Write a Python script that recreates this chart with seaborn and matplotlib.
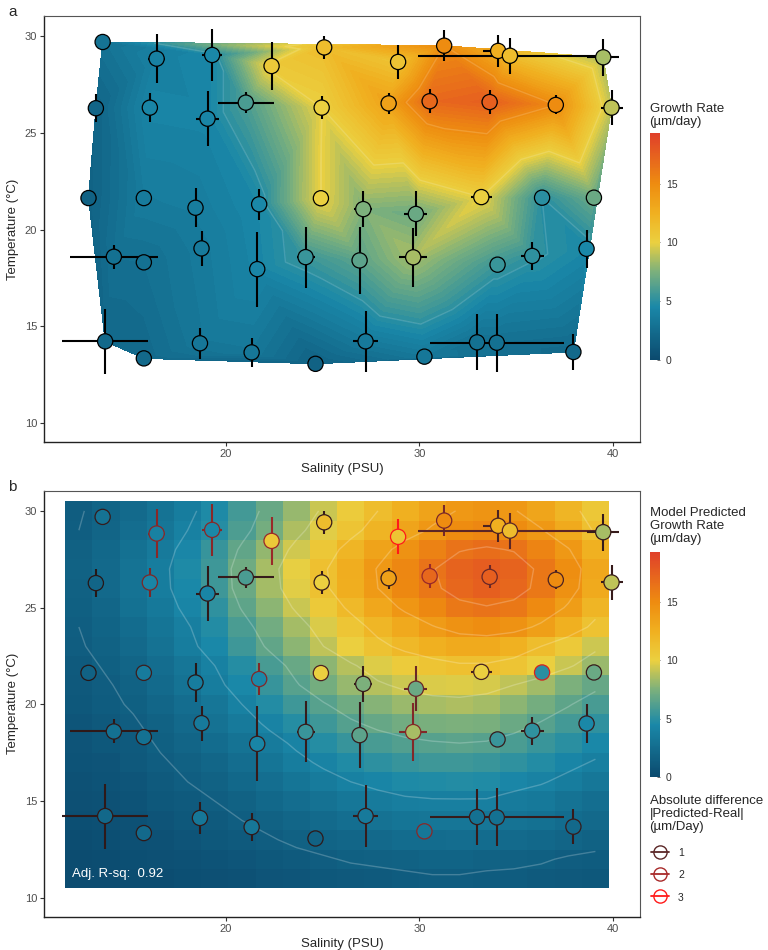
import numpy as np
import matplotlib
matplotlib.use("Agg")
import matplotlib.pyplot as plt
from matplotlib.colors import LinearSegmentedColormap, Normalize
from matplotlib.cm import ScalarMappable
from matplotlib.lines import Line2D
import seaborn as sns

sns.set_style("white")
plt.rcParams['font.family'] = ['Liberation Sans', 'DejaVu Sans']

# observations: salinity (PSU), temperature (C), growth rate (um/day) and error bars
sal = [13.63, 16.42, 19.29, 22.36, 25.08, 13.28, 16.07, 19.05, 21.03, 24.95,
       12.90, 15.76, 18.43, 21.72, 24.91, 27.10, 28.90, 31.28, 34.07, 34.68,
       39.50, 28.41, 30.53, 33.63, 37.05, 39.93, 33.20, 36.34, 39.02, 29.82,
       29.68, 34.04, 35.83, 38.64, 30.26, 32.98, 34.00, 37.96, 14.21, 15.76,
       18.74, 21.62, 24.12, 26.91, 13.76, 15.76, 18.66, 21.33, 24.63, 27.22]
temp = [29.69, 28.83, 29.02, 28.45, 29.41, 26.27, 26.30, 25.73, 26.56, 26.30,
        21.63, 21.63, 21.13, 21.31, 21.62, 21.06, 28.66, 29.50, 29.23, 28.98,
        28.90, 26.52, 26.63, 26.59, 26.44, 26.30, 21.68, 21.65, 21.65, 20.81,
        18.57, 18.19, 18.64, 19.01, 13.44, 14.18, 14.16, 13.68, 18.60, 18.31,
        19.03, 17.96, 18.58, 18.41, 14.23, 13.35, 14.13, 13.66, 13.07, 14.23]
growth = [3.0, 4.0, 4.5, 10.5, 11.5, 2.0, 4.3, 4.3, 6.0, 10.0,
          1.8, 3.6, 3.7, 4.5, 10.0, 7.5, 11.0, 15.0, 12.5, 11.5,
          8.5, 13.5, 17.0, 17.5, 15.0, 9.0, 10.0, 5.0, 7.0, 7.0,
          8.5, 5.5, 5.2, 4.5, 3.3, 2.8, 2.8, 2.3, 2.8, 2.8,
          3.5, 4.3, 5.5, 6.5, 2.2, 2.3, 3.3, 3.3, 1.8, 3.5]
sal_err = [0, 0.43, 0.53, 0.2, 0, 0, 0, 0.6, 1.45, 0,
           0, 0.15, 0, 0, 0, 0.46, 0.38, 0, 0.8, 4.75,
           0.83, 0.2, 0, 0.15, 0.41, 0.57, 0.54, 0, 0, 0.59,
           0.72, 0, 0.59, 0, 0, 0, 3.45, 0, 2.26, 0,
           0, 0, 0.47, 0, 2.22, 0.39, 0, 0, 0, 0.64]
temp_err = [0, 1.25, 1.33, 1.24, 0.6, 0.72, 0.76, 1.41, 0.54, 0.6,
            0, 0, 1.02, 0.81, 0, 0.92, 0.9, 0.8, 0.84, 0.93,
            0.95, 0.55, 0.62, 0.6, 0.49, 0.9, 0, 0, 0, 1.16,
            1.51, 0, 0.72, 0.99, 0.15, 1.44, 1.5, 0.91, 0.62, 0,
            0.91, 1.94, 1.58, 1.72, 1.68, 0.2, 0.81, 0.74, 0.15, 1.58]
# |predicted - real| for panel b
abs_diff = [0.5, 1.6, 1.6, 1.8, 0.5, 0.3, 1.4, 0.4, 0.5, 0.5,
            0.3, 0.6, 0.3, 1.5, 0.8, 0.5, 3.0, 1.4, 0.8, 1.0,
            0.5, 0.5, 1.8, 1.2, 0.8, 0.5, 0.7, 2.5, 0.5, 1.2,
            1.5, 0.5, 0.5, 0.5, 1.6, 0.5, 0.5, 0.5, 0.4, 0.4,
            0.4, 0.5, 0.5, 0.5, 0.4, 0.4, 0.4, 0.4, 0.4, 0.5]

# model predicted growth, rows = temperature 11..30 C, cols = salinity 12.4..39.1
pred = [
    [0.2, 0.2, 0.3, 0.3, 0.4, 0.5, 0.6, 0.8, 0.9, 1.0, 1.1, 1.2, 1.3, 1.4, 1.4, 1.3, 1.3, 1.2, 1.1, 1.0],
    [0.2, 0.3, 0.4, 0.5, 0.6, 0.7, 0.9, 1.0, 1.2, 1.4, 1.6, 1.7, 1.8, 1.9, 1.9, 1.8, 1.7, 1.6, 1.4, 1.3],
    [0.3, 0.4, 0.5, 0.6, 0.8, 1.0, 1.2, 1.4, 1.7, 1.9, 2.1, 2.3, 2.5, 2.5, 2.6, 2.5, 2.4, 2.2, 2.0, 1.8],
    [0.4, 0.5, 0.6, 0.8, 1.0, 1.2, 1.5, 1.8, 2.1, 2.4, 2.7, 2.9, 3.1, 3.2, 3.2, 3.2, 3.0, 2.8, 2.5, 2.3],
    [0.5, 0.6, 0.7, 1.0, 1.2, 1.5, 1.8, 2.2, 2.6, 2.9, 3.3, 3.6, 3.8, 3.9, 3.9, 3.9, 3.6, 3.4, 3.0, 2.7],
    [0.6, 0.7, 0.9, 1.2, 1.5, 1.8, 2.2, 2.7, 3.1, 3.6, 4.0, 4.3, 4.6, 4.7, 4.8, 4.7, 4.4, 4.1, 3.7, 3.3],
    [0.7, 0.8, 1.1, 1.4, 1.7, 2.1, 2.6, 3.1, 3.7, 4.2, 4.7, 5.1, 5.4, 5.6, 5.6, 5.5, 5.2, 4.8, 4.3, 3.9],
    [0.8, 1.0, 1.2, 1.6, 2.0, 2.5, 3.0, 3.6, 4.2, 4.9, 5.4, 5.9, 6.2, 6.4, 6.5, 6.4, 6.0, 5.5, 5.0, 4.5],
    [0.9, 1.1, 1.4, 1.8, 2.3, 2.9, 3.5, 4.2, 4.9, 5.6, 6.3, 6.8, 7.2, 7.4, 7.5, 7.4, 7.0, 6.4, 5.8, 5.2],
    [1.0, 1.3, 1.6, 2.1, 2.6, 3.2, 4.0, 4.8, 5.6, 6.4, 7.1, 7.7, 8.2, 8.5, 8.6, 8.4, 7.9, 7.3, 6.6, 5.9],
    [1.1, 1.4, 1.8, 2.4, 3.0, 3.7, 4.5, 5.4, 6.4, 7.3, 8.1, 8.8, 9.3, 9.6, 9.7, 9.5, 9.0, 8.3, 7.5, 6.8],
    [1.2, 1.6, 2.0, 2.6, 3.2, 4.0, 4.9, 5.9, 6.9, 7.9, 8.8, 9.7, 10.4, 10.9, 11.3, 11.3, 10.9, 10.1, 9.2, 8.2],
    [1.4, 1.8, 2.3, 2.9, 3.7, 4.5, 5.6, 6.7, 7.9, 9.0, 10.1, 11.1, 11.9, 12.5, 12.9, 12.9, 12.4, 11.5, 10.5, 9.3],
    [1.5, 1.9, 2.5, 3.1, 3.9, 4.8, 6.0, 7.2, 8.4, 9.6, 10.8, 12.0, 13.0, 13.9, 14.6, 14.9, 14.6, 13.7, 12.5, 11.1],
    [1.6, 2.1, 2.8, 3.4, 4.3, 5.2, 6.6, 7.9, 9.2, 10.5, 11.8, 13.1, 14.3, 15.2, 16.1, 16.4, 16.1, 15.1, 13.8, 12.1],
    [1.7, 2.3, 3.0, 3.7, 4.5, 5.6, 7.0, 8.4, 9.8, 11.2, 12.6, 14.0, 15.2, 16.2, 17.1, 17.5, 17.1, 16.1, 14.7, 12.9],
    [1.8, 2.3, 3.0, 3.7, 4.6, 5.6, 7.1, 8.5, 9.9, 11.3, 12.7, 14.1, 15.3, 16.4, 17.3, 17.6, 17.3, 16.2, 14.8, 13.1],
    [1.7, 2.2, 2.8, 3.5, 4.4, 5.4, 6.7, 8.0, 9.4, 10.7, 12.1, 13.4, 14.6, 15.6, 16.4, 16.7, 16.4, 15.4, 14.1, 12.4],
    [1.5, 2.0, 2.6, 3.2, 4.0, 4.9, 6.1, 7.3, 8.6, 9.8, 11.0, 12.2, 13.3, 14.2, 15.0, 15.3, 15.0, 14.1, 12.9, 11.3],
    [1.4, 1.9, 2.4, 3.0, 3.7, 4.6, 5.8, 6.9, 8.1, 9.2, 10.4, 11.5, 12.5, 13.4, 14.1, 14.4, 14.1, 13.2, 12.1, 10.7],
]
pred = np.array(pred)
sal_edges = np.linspace(11.7, 39.8, pred.shape[1] + 1)
temp_edges = np.linspace(10.5, 30.5, pred.shape[0] + 1)
sal_mid = (sal_edges[:-1] + sal_edges[1:]) / 2
temp_mid = (temp_edges[:-1] + temp_edges[1:]) / 2

growth_cmap = LinearSegmentedColormap.from_list("growth", [
    (0.0, "#0b4a6e"), (4.5 / 19.3, "#1a88a8"), (7.5 / 19.3, "#7cb07c"),
    (10 / 19.3, "#ebd040"), (12.5 / 19.3, "#f0b020"), (15 / 19.3, "#ee8c10"),
    (1.0, "#e0402a")])
norm = Normalize(0, 19.3)
diff_cmap = LinearSegmentedColormap.from_list("diff", ["#111111", "#5b2626", "#a82a2a", "#ff1a1a"])
diff_norm = Normalize(0, 3)

fig = plt.figure(figsize=(7.68, 9.5), dpi=100)
ax_a = fig.add_axes([0.0573, 0.5347, 0.776, 0.4484])
ax_b = fig.add_axes([0.0573, 0.0351, 0.776, 0.4481])


def style_axes(ax):
    ax.set_xlim(10.6, 41.4)
    ax.set_ylim(9.03, 31.03)
    ax.set_xticks([20, 30, 40])
    ax.set_yticks([10, 15, 20, 25, 30])
    ax.tick_params(labelsize=8, labelcolor="#4d4d4d", length=3, width=0.8,
                   color="#333333", direction="out", bottom=True, left=True, pad=2)
    for side in ["top", "right"]:
        ax.spines[side].set_color("#555555")
        ax.spines[side].set_linewidth(0.8)
    for side in ["left", "bottom"]:
        ax.spines[side].set_color("#222222")
        ax.spines[side].set_linewidth(1.0)
    ax.set_xlabel("Salinity (PSU)", fontsize=9.5, labelpad=3)
    ax.set_ylabel("Temperature (°C)", fontsize=9.5, labelpad=4)


def draw_points(ax, edge_colors):
    for i in range(len(sal)):
        ax.errorbar(sal[i], temp[i], xerr=sal_err[i], yerr=temp_err[i], fmt="none",
                    ecolor=edge_colors[i], elinewidth=1.5, capsize=0, zorder=3)
    sns.scatterplot(x=sal, y=temp, hue=growth, palette=growth_cmap, hue_norm=norm,
                    s=120, linewidth=0.9, edgecolor="black", legend=False, ax=ax, zorder=4)
    ax.collections[-1].set_edgecolor(edge_colors)


# panel a: interpolated observations
ax_a.tricontourf(sal, temp, growth, levels=np.linspace(0, 19.3, 70), cmap=growth_cmap, norm=norm, zorder=1)
ax_a.tricontour(sal, temp, growth, levels=[5, 10, 15], colors="white", alpha=0.15, linewidths=1, zorder=2)
draw_points(ax_a, ["black"] * len(sal))
style_axes(ax_a)

# panel b: model prediction
ax_b.pcolormesh(sal_edges, temp_edges, pred, cmap=growth_cmap, norm=norm, zorder=1)
ax_b.contour(sal_mid, temp_mid, pred, levels=[1.5, 4, 6.5, 9, 11.5, 14, 16.5],
             colors="white", alpha=0.22, linewidths=1, zorder=2)
draw_points(ax_b, [diff_cmap(diff_norm(d)) for d in abs_diff])
ax_b.text(12.05, 11.25, "Adj. R-sq:  0.92", color="white", fontsize=9.5, va="center", ha="left", zorder=5)
style_axes(ax_b)

fig.text(8 / 768, 1 - 12 / 950, "a", fontsize=11, va="center", ha="left")
fig.text(8 / 768, 1 - 487 / 950, "b", fontsize=11, va="center", ha="left")

# colorbars
for top_px, bottom_px, title, title_px in [(133, 360, "Growth Rate\n(µm/day)", 128),
                                           (551.7, 777.3, "Model Predicted\nGrowth Rate\n(µm/day)", 545)]:
    cax = fig.add_axes([650 / 768, 1 - bottom_px / 950, 10.3 / 768, (bottom_px - top_px) / 950])
    cb = fig.colorbar(ScalarMappable(norm=norm, cmap=growth_cmap), cax=cax, ticks=[0, 5, 10, 15])
    cb.outline.set_visible(False)
    cax.tick_params(labelsize=7.5, labelcolor="#333333", length=2, width=0.6,
                    color="#555555", direction="in", pad=4)
    fig.text(649.5 / 768, 1 - title_px / 950, title, fontsize=9.5, va="bottom", ha="left", linespacing=1.1)

# legend for absolute difference
fig.text(649.5 / 768, 1 - 833 / 950, "Absolute difference\n|Predicted-Real|\n(µm/Day)",
         fontsize=9.5, va="bottom", ha="left", linespacing=1.1)
diff_levels = [1, 2, 3]
handles = [Line2D([], [], color=diff_cmap(diff_norm(d)), marker="o", markersize=9.5,
                  markerfacecolor="none", linewidth=1.3) for d in diff_levels]
leg = fig.legend(handles, [str(d) for d in diff_levels], loc="upper left",
                 bbox_to_anchor=(651 / 768, 1 - 847 / 950), frameon=False,
                 fontsize=7.5, handlelength=1.7, handleheight=1.3, handletextpad=0.9,
                 labelspacing=1.05, borderpad=0, borderaxespad=0)

fig.savefig("out.png", dpi=100)
